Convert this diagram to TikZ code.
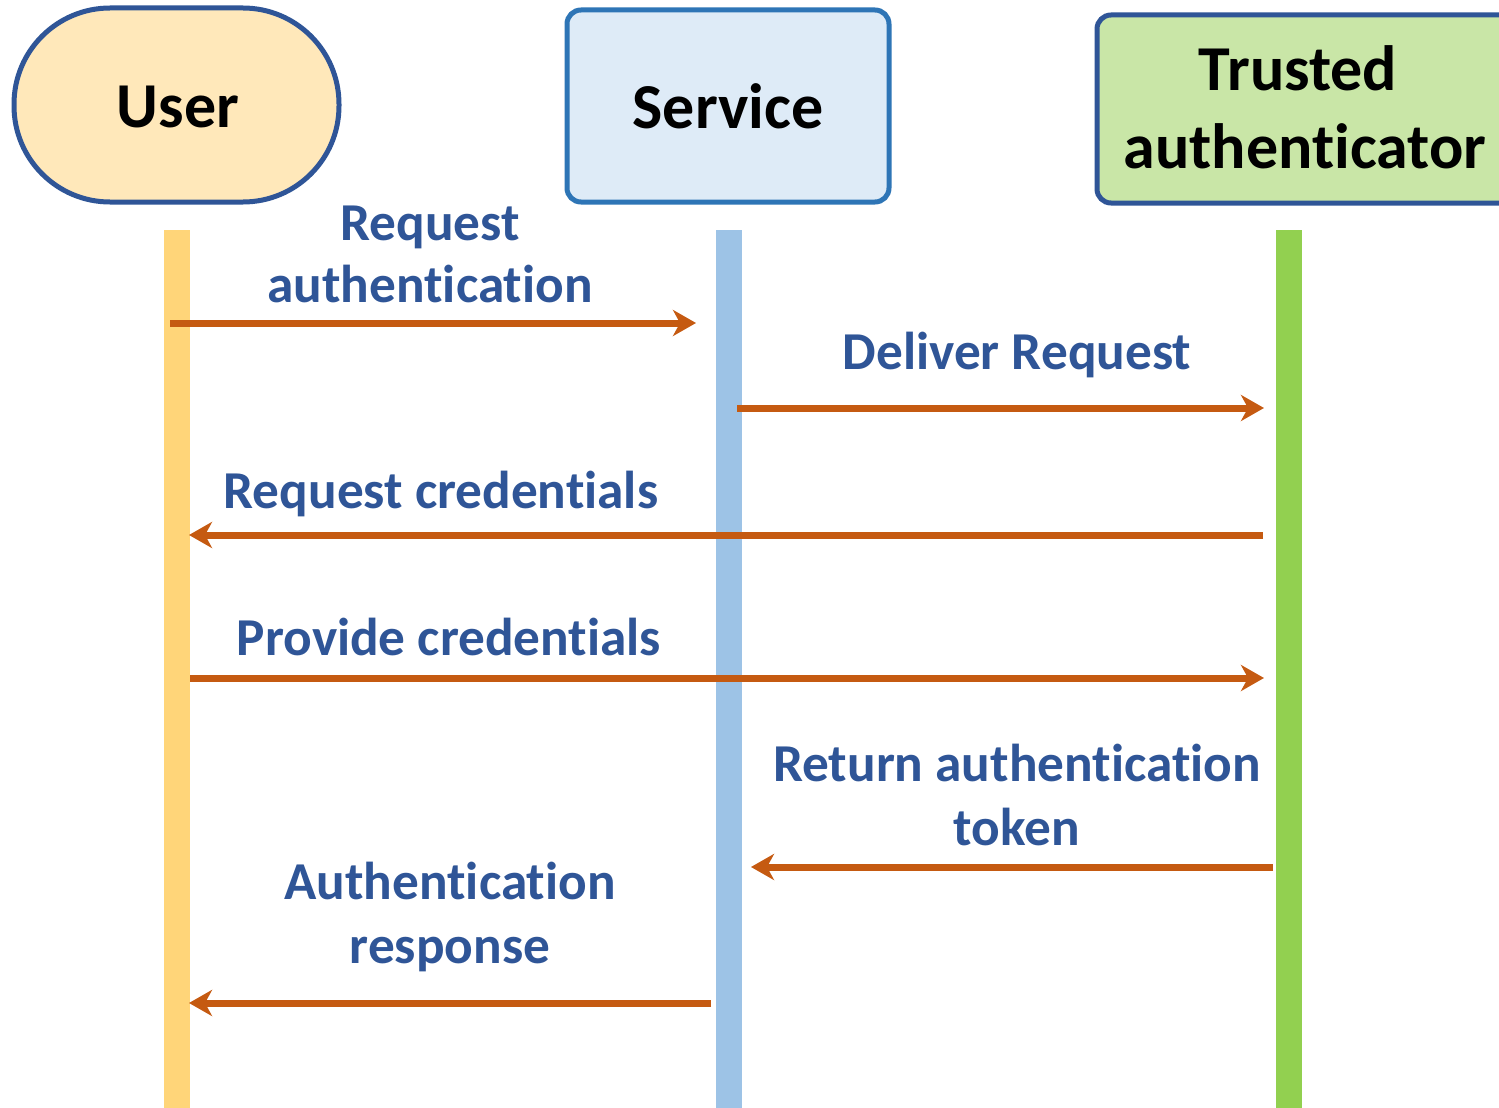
\documentclass[tikz,border=0pt]{standalone}
\usepackage{fontspec}
\setmainfont{Carlito}[RawFeature={-liga;-clig;-calt}]
\usetikzlibrary{arrows.meta}
\definecolor{bord}{HTML}{2F5597}
\definecolor{servbord}{HTML}{2E75B6}
\definecolor{userfill}{HTML}{FFE8BA}
\definecolor{servfill}{HTML}{DEEBF7}
\definecolor{trustfill}{HTML}{C9E6A7}
\definecolor{ulife}{HTML}{FFD579}
\definecolor{slife}{HTML}{9DC3E6}
\definecolor{tlife}{HTML}{92D050}
\definecolor{msg}{HTML}{C55A11}
\definecolor{lbl}{HTML}{2F5597}
\begin{document}
\begin{tikzpicture}[x=1pt,y=-1pt,
  header/.style={line width=5pt, inner sep=0pt, font=\fontsize{64}{77}\selectfont\bfseries, align=center, text=black},
  lifeline/.style={inner sep=0pt, minimum width=26pt, minimum height=878pt, anchor=north},
  msgarrow/.style={draw=msg, line width=7pt, -{Stealth[length=23pt,width=26pt,inset=7pt]}},
  msglabel/.style={font=\fontsize{53.3}{64}\selectfont\bfseries, text=lbl, align=center, inner sep=0pt, anchor=base}]
\useasboundingbox[fill=white] (0,0) rectangle (1499,1108);
% headers
\node[header, draw=bord, fill=userfill, rounded corners=96pt, minimum width=325pt, minimum height=194pt] (user) at (176.5,105) {};
\node[header, anchor=base] (usert) at (178,127) {User};
\node[header, draw=servbord, fill=servfill, rounded corners=14pt, minimum width=322pt, minimum height=192pt] (serv) at (728,106) {};
\node[header, anchor=base] (servt) at (728,128) {Service};
\node[header, draw=bord, fill=trustfill, rounded corners=14pt, minimum width=430pt, minimum height=188pt] (trust) at (1312,109) {};
\node[header, anchor=base] (trustt1) at (1298,91) {Trusted};
\node[header, anchor=base] (trustt2) at (1305,168) {authenticator};
% lifelines
\node[lifeline, fill=ulife] (ul) at (177,230) {};
\node[lifeline, fill=slife] (sl) at (729,230) {};
\node[lifeline, fill=tlife] (tl) at (1288.5,230) {};
% arrow end points
\coordinate (a1s) at (170,323); \coordinate (a1e) at (696,323);
\coordinate (a2s) at (737,408); \coordinate (a2e) at (1264,408);
\coordinate (a3s) at (1263,535); \coordinate (a3e) at (189,535);
\coordinate (a4s) at (190,678); \coordinate (a4e) at (1264,678);
\coordinate (a5s) at (1273,867); \coordinate (a5e) at (751,867);
\coordinate (a6s) at (711,1003); \coordinate (a6e) at (189,1003);
\draw[msgarrow] (a1s) -- (a1e);
\draw[msgarrow] (a2s) -- (a2e);
\draw[msgarrow] (a3s) -- (a3e);
\draw[msgarrow] (a4s) -- (a4e);
\draw[msgarrow] (a5s) -- (a5e);
\draw[msgarrow] (a6s) -- (a6e);
% labels
\node[msglabel] (l1a) at (430,240) {Request};
\node[msglabel] (l1b) at (430,302) {authentication};
\node[msglabel] (l2) at (1017,369) {Deliver Request};
\node[msglabel] (l3) at (441,508) {Request credentials};
\node[msglabel] (l4) at (449,655) {Provide credentials};
\node[msglabel] (l5a) at (1017,781) {Return authentication};
\node[msglabel] (l5b) at (1017,845) {token};
\node[msglabel] (l6a) at (450,899) {Authentication};
\node[msglabel] (l6b) at (450,963) {response};
\end{tikzpicture}
\end{document}
